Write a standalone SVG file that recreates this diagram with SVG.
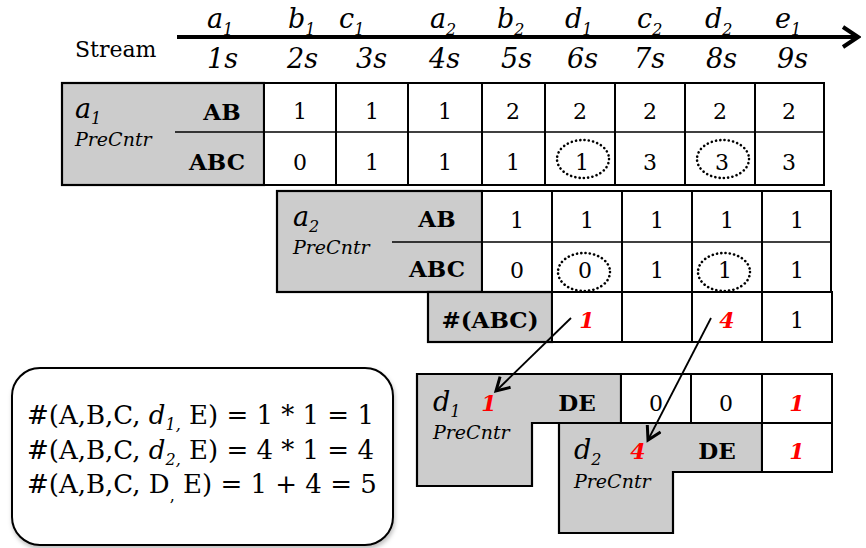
<svg xmlns="http://www.w3.org/2000/svg" width="866" height="548" viewBox="0 0 866 548">
<style>
text{font-family:"DejaVu Serif","Liberation Serif",serif;fill:#000}
.it{font-style:italic}
.hd{font-size:27px;font-style:italic}
.sub{font-size:16px;font-style:italic}
.num{font-size:22px;text-anchor:middle}
.red{fill:#ff0000;font-style:italic;font-weight:bold}
.lbl{font-size:23px;font-weight:bold;text-anchor:middle}
.pc{font-size:19px;font-style:italic}
.gray{fill:#cccccc;stroke:#000;stroke-width:2.2}
.cell{fill:#fff;stroke:#000;stroke-width:2}
.thin{stroke:#000;stroke-width:1.3}
.dot{fill:none;stroke:#000;stroke-width:2.6;stroke-dasharray:0.1 4.2;stroke-linecap:round}
.eq{font-size:26px}
.arr{stroke:#000;stroke-width:1.8;fill:none}
</style>
<defs>
<marker id="vh" markerWidth="18" markerHeight="18" refX="14" refY="9" orient="auto" markerUnits="userSpaceOnUse">
<path d="M1,1.5 L14,9 L1,16.5" fill="none" stroke="#000" stroke-width="3"/>
</marker>
<marker id="ah" markerWidth="20" markerHeight="24" refX="17" refY="12" orient="auto" markerUnits="userSpaceOnUse">
<path d="M2,2 L17,12 L2,22" fill="none" stroke="#000" stroke-width="4"/>
</marker>
<filter id="sh" x="-10%" y="-10%" width="120%" height="130%">
<feDropShadow dx="1" dy="3" stdDeviation="2" flood-color="#000" flood-opacity="0.25"/>
</filter>
</defs>

<g id="stream">
<line x1="177" y1="37" x2="858" y2="37" stroke="#000" stroke-width="4" marker-end="url(#ah)"/>
<text x="75" y="57" font-size="22">Stream</text>
<text class="hd" x="207" y="28">a<tspan class="sub" dy="7">1</tspan></text>
<text class="hd" x="288" y="28">b<tspan class="sub" dy="7">1</tspan></text>
<text class="hd" x="339" y="28">c<tspan class="sub" dy="7">1</tspan></text>
<text class="hd" x="430" y="28">a<tspan class="sub" dy="7">2</tspan></text>
<text class="hd" x="497" y="28">b<tspan class="sub" dy="7">2</tspan></text>
<text class="hd" x="565" y="28">d<tspan class="sub" dy="7">1</tspan></text>
<text class="hd" x="637" y="28">c<tspan class="sub" dy="7">2</tspan></text>
<text class="hd" x="705" y="28">d<tspan class="sub" dy="7">2</tspan></text>
<text class="hd" x="775" y="28">e<tspan class="sub" dy="7">1</tspan></text>
<text class="hd" x="207" y="68">1s</text>
<text class="hd" x="287" y="68">2s</text>
<text class="hd" x="356" y="68">3s</text>
<text class="hd" x="429" y="68">4s</text>
<text class="hd" x="501" y="68">5s</text>
<text class="hd" x="567" y="68">6s</text>
<text class="hd" x="634" y="68">7s</text>
<text class="hd" x="706" y="68">8s</text>
<text class="hd" x="777" y="68">9s</text>
</g>

<g id="table-a1">
<rect class="gray" x="62" y="83" width="202" height="102"/>
<line class="thin" x1="175" y1="132" x2="264" y2="132"/>
<rect class="cell" x="264" y="83" width="560" height="102"/>
<line class="thin" x1="264" y1="132" x2="824" y2="132"/>
<g stroke="#000" stroke-width="2">
<line x1="336" y1="83" x2="336" y2="185"/><line x1="408" y1="83" x2="408" y2="185"/>
<line x1="482" y1="83" x2="482" y2="185"/><line x1="545" y1="83" x2="545" y2="185"/>
<line x1="615" y1="83" x2="615" y2="185"/><line x1="685" y1="83" x2="685" y2="185"/>
<line x1="755" y1="83" x2="755" y2="185"/>
</g>
<text class="hd" x="75" y="118" font-size="24">a<tspan class="sub" dy="6">1</tspan></text>
<text class="pc" x="75" y="146">PreCntr</text>
<text class="lbl" x="222" y="120">AB</text>
<text class="lbl" x="217" y="170">ABC</text>
<text class="num" x="300" y="119">1</text><text class="num" x="372" y="119">1</text>
<text class="num" x="445" y="119">1</text><text class="num" x="513" y="119">2</text>
<text class="num" x="580" y="119">2</text><text class="num" x="650" y="119">2</text>
<text class="num" x="720" y="119">2</text><text class="num" x="789" y="119">2</text>
<text class="num" x="300" y="170">0</text><text class="num" x="372" y="170">1</text>
<text class="num" x="445" y="170">1</text><text class="num" x="513" y="170">1</text>
<text class="num" x="582" y="170">1</text><text class="num" x="650" y="170">3</text>
<text class="num" x="722" y="170">3</text><text class="num" x="789" y="170">3</text>
<ellipse class="dot" cx="583" cy="159" rx="26" ry="19"/>
<ellipse class="dot" cx="723" cy="159" rx="26" ry="19"/>
</g>

<g id="table-a2">
<rect class="gray" x="277" y="191" width="205" height="101"/>
<line class="thin" x1="392" y1="242" x2="482" y2="242"/>
<rect class="cell" x="482" y="191" width="349" height="101"/>
<line class="thin" x1="482" y1="242" x2="831" y2="242"/>
<g stroke="#000" stroke-width="2">
<line x1="552" y1="191" x2="552" y2="292"/><line x1="622" y1="191" x2="622" y2="292"/>
<line x1="692" y1="191" x2="692" y2="292"/><line x1="762" y1="191" x2="762" y2="292"/>
</g>
<text class="hd" x="293" y="226" font-size="24">a<tspan class="sub" dy="6">2</tspan></text>
<text class="pc" x="293" y="254">PreCntr</text>
<text class="lbl" x="437" y="227">AB</text>
<text class="lbl" x="437" y="277">ABC</text>
<text class="num" x="517" y="228">1</text><text class="num" x="587" y="228">1</text>
<text class="num" x="657" y="228">1</text><text class="num" x="727" y="228">1</text>
<text class="num" x="797" y="228">1</text>
<text class="num" x="517" y="278">0</text><text class="num" x="585" y="278">0</text>
<text class="num" x="657" y="278">1</text><text class="num" x="725" y="278">1</text>
<text class="num" x="797" y="278">1</text>
<ellipse class="dot" cx="584" cy="272" rx="26" ry="19"/>
<ellipse class="dot" cx="724" cy="272" rx="26" ry="19"/>
</g>

<g id="count-abc">
<rect class="gray" x="428" y="292" width="124" height="50"/>
<rect class="cell" x="552" y="292" width="280" height="50"/>
<g stroke="#000" stroke-width="2">
<line x1="622" y1="292" x2="622" y2="342"/><line x1="692" y1="292" x2="692" y2="342"/>
<line x1="762" y1="292" x2="762" y2="342"/>
</g>
<text class="lbl" x="490" y="328">#(ABC)</text>
<text class="num red" x="587" y="328">1</text>
<text class="num red" x="727" y="328">4</text>
<text class="num" x="797" y="328">1</text>
</g>

<line id="divider" x1="50" y1="355" x2="866" y2="355" stroke="#333" stroke-width="3" stroke-dasharray="9 5" filter="url(#sh)"/>

<g id="formula-box">
<rect x="12" y="368" width="381" height="177" rx="28" fill="#fff" stroke="#000" stroke-width="2" filter="url(#sh)"/>
<text class="eq" x="27" y="424">#(A,B,C, <tspan class="it">d</tspan><tspan class="sub" dy="6">1,</tspan><tspan dy="-6"> E) = 1 * 1 = 1</tspan></text>
<text class="eq" x="27" y="459">#(A,B,C, <tspan class="it">d</tspan><tspan class="sub" dy="6">2,</tspan><tspan dy="-6"> E) = 4 * 1 = 4</tspan></text>
<text class="eq" x="27" y="493">#(A,B,C, D<tspan font-size="16px" dy="8">,</tspan><tspan dy="-8"> E) = 1 + 4 = 5</tspan></text>
</g>

<g id="table-d1">
<path class="gray" d="M417,374 H621 V423 H532 V486 H417 Z"/>
<rect class="cell" x="621" y="374" width="211" height="49"/>
<g stroke="#000" stroke-width="2">
<line x1="691" y1="374" x2="691" y2="423"/><line x1="762" y1="374" x2="762" y2="423"/>
</g>
<text class="hd" x="433" y="411" font-size="25">d<tspan class="sub" dy="6">1</tspan></text>
<text class="num red" x="489" y="411" font-size="23">1</text>
<text class="lbl" x="577" y="411">DE</text>
<text class="pc" x="433" y="439">PreCntr</text>
<text class="num" x="656" y="411">0</text>
<text class="num" x="726" y="411">0</text>
<text class="num red" x="797" y="411">1</text>
</g>

<g id="table-d2">
<path class="gray" d="M559,423 H762 V472 H673 V533 H559 Z"/>
<rect class="cell" x="762" y="423" width="70" height="49"/>
<text class="hd" x="574" y="459" font-size="25">d<tspan class="sub" dy="6">2</tspan></text>
<text class="num red" x="638" y="459" font-size="23">4</text>
<text class="lbl" x="717" y="459">DE</text>
<text class="pc" x="574" y="488">PreCntr</text>
<text class="num red" x="797" y="459">1</text>
</g>

<g id="connectors">
<line class="arr" x1="571" y1="318" x2="496" y2="391" marker-end="url(#vh)"/>
<line class="arr" x1="711" y1="318" x2="648" y2="440" marker-end="url(#vh)"/>
</g>
</svg>
